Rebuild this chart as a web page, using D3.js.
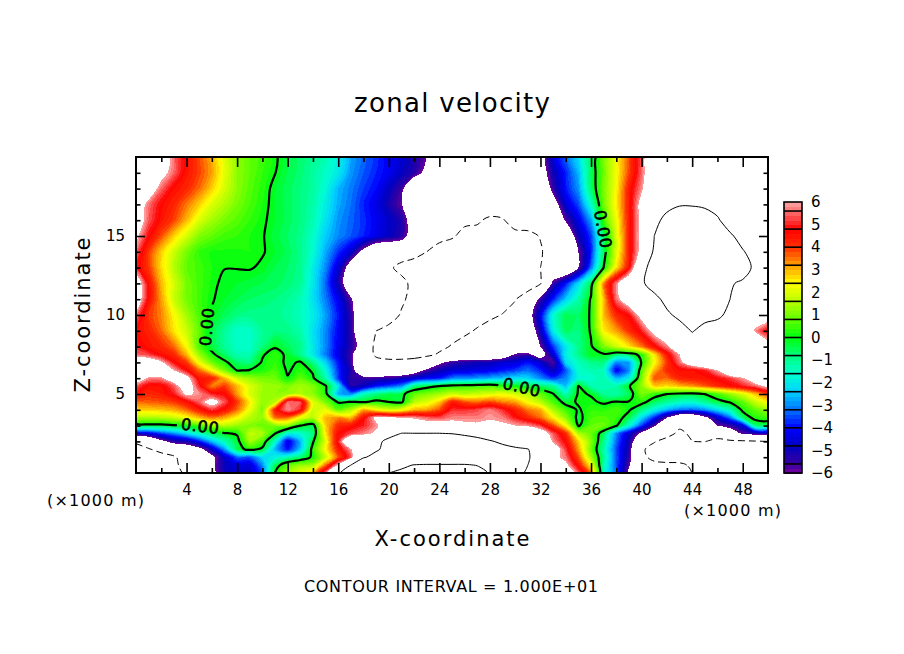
<!DOCTYPE html>
<html>
<head>
<meta charset="utf-8">
<script src="https://cdn.jsdelivr.net/npm/d3@7"></script>
<style>
  html, body { margin: 0; background: #fff; }
  text { font-family: "DejaVu Sans", sans-serif; fill: #000; }
</style>
</head>
<body>
<svg id="chart" width="904" height="654"></svg>
<script>
// heights of the rows below (x1000 m)
const zLevels = [20,19,18,17,16,15,14,13,12,11,10,9,8,7.5,7,6.5,6,5.5,5,4.5,4,3.5,3,2.5,2,1.5,1,.5,0];
// one column per 1000 m, x = 0..50
const xLevels = d3.range(0, 51);

// zonal velocity, one row per zLevels entry
const zonalVelocity = [
  [8,8,7,5.5,4.5,3.8,3,2,1.2,.8, .5,.1,-.4,-.7,-1,-1.3,-1.9,-2.8,-3.3,-3.7, -4.2,-4.6,-5.2,-6,-8,-8,-8,-8,-8,-8, -8,-8,-7,-4.4,-3.3,-2.2,-.6,1,2.2,3.8, 5.4,7.5,8,8,8,8,8,8,8,8,8],
  [8,8,6.5,5.5,4.5,3.9,3.2,2.1,1.2,.8, .4,.02,-.4,-.7,-1.1,-1.5,-2,-2.9,-3.4,-3.8, -4.2,-4.8,-5.3,-6.5,-8,-8,-8,-8,-8,-8, -8,-8,-7,-5,-3.8,-2.6,-.5,.9,2.3,3.9, 5.5,7.5,8,8,8,8,8,8,8,8,8],
  [8,7,5.5,4.6,4.2,3.6,2.8,1.9,1.2,.7, .3,-.2,-.5,-.8,-1.1,-1.7,-2.6,-3.1,-3.6,-4, -4.8,-5.6,-8,-8,-8,-8,-8,-8,-8,-8, -8,-8,-8,-5.5,-3.9,-2.9,-.6,1,2.4,4.4, 5.8,8,8,8,8,8,8,8,8,8,8],
  [7,5.6,4.7,4.2,3.5,2.8,2,1.5,1,.6, .2,-.2,-.5,-.8,-1.2,-1.9,-2.7,-3.2,-3.8,-4.3, -5.1,-5.9,-8,-8,-8,-8,-8,-8,-8,-8, -8,-8,-8,-7,-4.5,-3.5,-1.5,.9,2.5,4.4, 6.5,8,8.5,9.5,9.5,9,8.5,8,8,8,8],
  [7,5.4,4.5,3.9,3,2,1.4,1,.7,.4, .1,-.2,-.5,-.8,-1.3,-2.1,-2.9,-3.3,-3.7,-4.2, -4.7,-5.2,-7,-8,-8,-8.6,-9.3,-9.6,-10.6,-10.3, -8.5,-8,-8,-8,-5.8,-4.3,-2.8,.5,2.2,4.4, 6.4,8.5,11.5,14,14,13,10.5,8,8,8,8],
  [6.3,4.8,3.8,2.8,1.9,1.1,.8,.5,.4,.2, .05,-.3,-.6,-.9,-1.5,-2.4,-3,-3.4,-3.8,-4.3, -4.8,-5.3,-7,-8,-8.5,-9.6,-11,-11,-11,-10.8, -11,-11,-9.8,-8,-8,-5,-3.6,-.6,2,4.4, 6.5,10,12,14,14,14,13,10.6,8.5,8,8],
  [5.5,4,2.8,1.8,1,.4,.15,.15,.15,.2, .05,-.2,-.5,-.9,-1.6,-2.7,-3.7,-4.6,-6.5,-8, -8,-8,-8.5,-10,-12,-12,-12,-12,-12,-12, -12,-12,-10.4,-8,-8,-6,-3.8,-.4,2,4.4, 6.5,10.5,13,15,15,15,15,15,10.3,8.5,8],
  [5,4,2.7,1.6,.8,.5,.2,.02,.02,.05, -.1,-.4,-.6,-.9,-1.9,-3,-4.5,-7,-8,-8, -9.4,-11,-12,-12,-12,-12,-12,-12,-12,-12, -12,-12,-10,-8,-8,-6,-3.2,.02,2.6,4.6, 8.5,12,14,15,15,15,15,14,13,8.5,8],
  [7,4.6,3,1.9,1,.5,.15,-.15,-.2,-.3, -.4,-.5,-.7,-1,-2,-3.3,-5,-7.5,-8,-8, -8.5,-9,-11,-12,-12,-12,-12,-12,-12,-12, -12,-12,-10.2,-5.5,-3.9,-2.2,-.4,3.4,5.7,7.5, 9.5,11.5,14,15,15,15,14,10.6,9,8,8],
  [7,4.6,3.2,1.8,1,.5,.05,-.2,-.4,-.6, -.7,-.8,-1,-1.3,-2.1,-3.1,-4.2,-5.8,-8,-8, -8.5,-9.5,-11,-12,-12,-12,-12,-12,-12,-12, -10.2,-8,-5.5,-3.8,-2.4,-1.2,.1,3,5.6,7, 7.5,9,11,13,13,12,11,10,8,8,8],
  [5.5,4,3.4,2.4,1.4,.6,-.05,-.5,-.8,-.9, -.9,-.9,-1.1,-1.4,-1.9,-2.8,-3.9,-5.4,-8,-8, -8.5,-10.3,-12,-12,-12,-12,-12,-12,-11,-9.8, -8.5,-7,-4.2,-1.6,-.4,-.6,.1,3,4.2,4.8, 6.5,7.5,9.4,10.8,11,11,10.8,9,8,7,7],
  [4.6,4.3,3.6,2.6,1.8,.8,-.4,-1,-1.6,-1.5, -1,-.8,-.9,-1.2,-2.1,-3,-4.1,-5.3,-8,-10, -11,-11,-11,-11,-11,-11,-11,-9.5,-8,-8, -8,-8,-4.8,-1.9,-.5,-.8,.1,2.5,3.2,4.1, 5,6.5,7.5,8.5,10.2,9,8,8,8,5.8,4.6],
  [5,4.5,4.2,3.6,2.4,.6,-.3,-1,-1.5,-1.5, -.8,-.1,-.5,-.9,-2,-3,-4.2,-5.3,-6.8,-11, -11,-11,-11,-11,-10.6,-9.8,-8,-8,-8,-8, -8,-8,-6,-3.6,-2,-.9,-.1,1,1.8,2.6, 3.5,4.6,5.7,7.5,8,8,8,8,8,8,6.8],
  [5.5,5.2,4.6,4.2,3,1.3,.2,-.6,-1.3,-1.3, -.1,.4,-.2,-.9,-2,-3.1,-4.3,-5.6,-8,-10.5, -11.5,-11.5,-11,-10.6,-9.7,-8.5,-8,-8,-8,-7.5, -5.8,-5.6,-7,-4.4,-1.9,-.9,-.05,-.1,-.6,-.5, .3,2.6,4.5,6,8,8,8,8,8,8,8],
  [7,7,6.2,4.8,4,2.2,.9,.2,-.6,-.8, .1,.4,-.2,.1,-.9,-2.3,-3.9,-5.5,-8,-9, -9,-9,-9,-8,-6.3,-5.5,-5.2,-5,-4.9,-4.5, -4.5,-3.9,-4.6,-5.8,-2.2,-1.4,-.9,-.8,-3,-2.8, .1,2.3,4,5.6,7,8,8,8,8,8,8],
  [8,7.5,7,6,4.8,3.6,2.4,1,-.05,.05, .2,.6,-.1,.3,-.1,-1.7,-3.7,-5.2,-8,-8, -8,-8,-7,-5.7,-5,-4.6,-4.5,-4.3,-4.2,-3.9, -3.6,-3.2,-3.8,-4.9,-3.4,-1.5,-1.3,-1.4,-4.2,-3, .7,3,4.2,4.6,4.6,5,6,8,8,8,8],
  [6.8,5.8,5.8,7,6.5,4.5,4.3,3,1.8,1.3, 1,.9,.05,.8,.1,-1.2,-3.6,-5.4,-5.5,-5.5, -5.4,-5,-4.6,-4.1,-3.9,-3.1,-3,-2.9,-2.7,-2.5, -2.2,-2.3,-3,-3.7,-3,-1.7,-1.6,-1.2,-2.6,-2, 1,3.8,3.6,4.3,4.4,4.5,4.8,5.2,5.9,7,8],
  [5.4,4.6,4.6,5.4,7,5,3.4,4,3,2, 1.4,1.3,1.1,1.4,1.1,.1,-2,-5.2,-4.8,-3.9, -3.5,-3,-.8,-.3,.02,.3,.4,.5,.6,.3, .05,-.3,-.6,-1,-2.5,.05,-1.2,-1.4,-1.2,-.1, 1.2,2.8,2.7,3,3.3,3.7,4.2,4.6,5,5.5,6.3],
  [4.6,4.2,4.4,5,6.2,5.8,5,4.8,3.2,2, 1.3,1.2,1.3,1.5,1.2,.3,-2.7,-3,-1.4,-.8, -.4,-.3,.8,1.1,1.4,1.8,1.6,1.8,2,2.2, 1.9,1.6,.8,.05,-1.3,.1,-.05,-1,-1.2,-.5, 1,.4,.02,-.2,-.3,.02,.6,1.3,2,2.9,3.8],
  [3.6,3.7,3.8,4,4.6,5.5,6.6,5.4,4,2.5, 1.2,1.6,5.6,5.4,2,1,-.1,.02,-.1,.2, -.02,-.2,1.6,2,2.8,4.4,3.8,3.6,3.9,3.4, 3.2,2.3,1.6,.6,-.3,.1,.1,-.1,.05,.05, .3,-.5,-1,-1.4,-1.5,-1,-.3,.1,.8,1.8,2.4],
  [2.7,2.8,2.9,3.1,3.6,4.4,5.2,4.6,3.6,2.2, 1,4.4,5.8,5,1.8,2.2,.8,1.5,3.2,2.4, 1.9,2.2,3,3.2,3.8,5.1,5.1,5.3,5.7,5.1, 4.3,3.5,3.1,1.5,.5,-.1,.4,.3,.6,.1, -.8,-1.8,-2.6,-3.1,-3.3,-2.9,-2.2,-1.3,.2,.8,1.3],
  [1.4,1.5,1.6,1.8,2.3,3,3.5,3.1,2.4,1.6, 1.2,3.6,3.6,2.2,1.6,3,3.4,3,4.6,6.3, 6.2,6,5.9,5.5,5.3,5.7,5.7,5.7,5.9,5.7, 4.9,4.2,3.6,2.5,1.2,-.3,.6,.7,.4,-.4, -2.2,-3.8,-6,-8,-8,-6.5,-4.6,-3.2,-.6,.3,.5],
  [-.4,-.3,-.3,-.1,.1,.6,1.4,1.6,1.3,1.1, .9,1.1,1.2,.02,-.4,2.8,4.2,4.5,5,5.8, 7,7,6.8,6.8,6.8,6.6,6.3,6.2,6.3,6.2, 6,5.8,5.2,3.9,2.4,-.1,.8,.9,.1,-1.6, -3.6,-5.8,-8,-9.5,-8,-8,-6,-5.5,-4.5,-.7,-.7],
  [-4.9,-4.3,-3.6,-3,-2.2,-1.4,-.6,-.1,.1,1.7, 1.5,.02,-1.7,-1.6,-.8,2.6,4.7,5.3,5.7,6.2, 8.6,10.1,10.1,10.1,10.1,9.9,9.2,8.5,8,8, 8,8,7,5.4,4.2,1.6,.9,-.5,-3,-4.6, -6.4,-8,-9,-10.6,-9.5,-8.5,-8.5,-7,-5.8,-5.3,-5.4],
  [-9.6,-8.5,-6.5,-5.3,-5,-3.9,-2.5,-1.3,-.3,1.4, .6,-1.5,-4.4,-2.6,-.1,2.1,5,8,8,9, 11,13,13,13,13,13,12.5,11.5,10.3,9.4, 8.6,8,8,5.8,4.7,2.8,1.1,-.9,-3.2,-5, -8,-9.8,-11,-12,-10,-9.9,-10.8,-10.5,-10.4,-10.2,-10],
  [-11,-10.2,-9.2,-8,-7.5,-6.6,-4.8,-2.9,-.4,.3, -.2,-2.6,-4,-2.4,.4,2.4,4.4,5.9,8,9.6, 11,14,14,14,14,14,14,14,14,11, 10.5,10.1,8.5,7,5.2,3.2,.9,-1.2,-3.5,-5.2, -9.6,-11,-12,-12,-12,-12,-12,-12,-12,-12,-12],
  [-12,-12,-11,-10.4,-8.5,-8,-6.5,-4.6,-3.3,-3.4, -2.2,-1.8,-1.3,-.7,.2,1.8,3.8,5.4,9.7,11, 14,15,15,15,15,15,15,15,14,13, 12,10.4,8,6.5,5.6,3.8,1.4,-1,-3.4,-5.4, -9.3,-10.8,-12,-12,-12,-12,-12,-12,-12,-12,-12],
  [-12,-12,-11.5,-10.8,-8.6,-8,-6.3,-4.9,-4.4,-4.5, -3,-.5,.8,1.3,1.4,3.6,6.2,10,13,16, 18,19,20.2,20.5,20.5,20.5,20.5,19.8,17,15, 11.5,10,8,7,6.3,4.5,2.4,-1.3,-3.4,-5.8, -8,-9.2,-9,-9.2,-10.6,-12,-12,-12,-12,-12,-12],
  [-12,-12,-12,-11,-9.5,-8,-6.5,-5,-4.6,-4.8, -3.6,.05,1.4,2.2,3,5.7,9.5,12,15,18, 20,21,24,24,24,24,24,22,19.5,17, 11,9.5,8,7.8,7,5.5,3.5,-1.5,-3.3,-6.5, -8,-8.5,-8.5,-8.5,-10.1,-12,-12,-12,-12,-12,-12]
];

// colour table: value -> colour, beyond +-6 stays white
const paletteValues = [-6,-5.6,-4.8,-4,-3.2,-2.4,-1.6,-.8,0,.8,1.6,2.4,3.2,4,4.8,5.6,6];
const paletteColors = ['#7800a0','#3800a0','#0000c0','#0000ff','#0070ff','#00d0ff','#00ffd0','#00ff80','#00ff10','#60ff00','#b8ff00','#ffff00','#ffa000','#ff3000','#ff0000','#ff7070','#ffa8a8'];

const fillStep = 0.2;
const boxEdges = d3.range(-5.6, 5.7, 0.8);
const barTicks = d3.range(-6, 7);
const xMajor = d3.range(4, 49, 4);
const xMinor = d3.range(2, 50, 4);
const zMajor = [5, 10, 15];
const zMinor = d3.range(1, 20).filter(d => d % 5 !== 0);
const contourLevels = [-10, 0, 10, 20];
const contourLabels = [
  { x: 5.6,  z: 9.24,  angle: -85 },
  { x: 5.06, z: 2.97,  angle: 7 },
  { x: 30.5, z: 5.44,  angle: 13 },
  { x: 36.95, z: 15.44, angle: 80 }
];

const plot = { left: 136, right: 768, top: 157, bottom: 473 };
const svg = d3.select('#chart');

const x = d3.scaleLinear().domain([0, 50]).range([plot.left, plot.right]);
const z = d3.scaleLinear().domain([0, 20]).range([plot.bottom, plot.top]);
const rowToZ = d3.scaleLinear().domain(zLevels.map((d, i) => i)).range(zLevels);
const color = d3.scaleLinear().domain(paletteValues).range(paletteColors).clamp(true);

// contours come back in grid units with nodes at cell centres; round the rings off
const ringLine = d3.line()
  .x(d => x(d[0] - 0.5))
  .y(d => z(rowToZ(d[1] - 0.5)))
  .curve(d3.curveCatmullRomClosed.alpha(0.5));
const path = c => c.coordinates.map(poly => poly.map(ring => ringLine(ring.slice(0, -1))).join('')).join('');

const grid = zonalVelocity.flat();
const contourGen = d3.contours().size([xLevels.length, zLevels.length]);

svg.append('clipPath').attr('id', 'plot-clip')
  .append('rect')
  .attr('x', plot.left).attr('y', plot.top)
  .attr('width', plot.right - plot.left).attr('height', plot.bottom - plot.top);

// Filled bands, painted from low to high; above +6 goes back to white
const fillLevels = d3.range(-30, 31).map(d => d * fillStep);
const bands = svg.append('g').attr('clip-path', 'url(#plot-clip)').attr('shape-rendering', 'crispEdges');
bands.selectAll('path')
  .data(contourGen.thresholds(fillLevels)(grid))
  .join('path')
  .attr('d', path)
  .attr('fill', d => d.value >= 5.99 ? '#fff' : color(d.value + fillStep / 2));

// Gaps in the zero line for its labels
const mask = svg.append('mask').attr('id', 'label-gaps').attr('maskUnits', 'userSpaceOnUse')
  .attr('x', 0).attr('y', 0).attr('width', 904).attr('height', 654);
mask.append('rect').attr('width', 904).attr('height', 654).attr('fill', '#fff');
mask.selectAll('rect.gap')
  .data(contourLabels)
  .join('rect')
  .attr('class', 'gap')
  .attr('x', -23).attr('y', -9).attr('width', 46).attr('height', 18)
  .attr('fill', '#000')
  .attr('transform', d => `translate(${x(d.x)},${z(d.z)}) rotate(${d.angle})`);

// Contour lines: heavy at zero, thin otherwise, dashed when negative
const lines = svg.append('g').attr('clip-path', 'url(#plot-clip)').append('g').attr('mask', 'url(#label-gaps)');
lines.selectAll('path')
  .data(contourGen.thresholds(contourLevels)(grid))
  .join('path')
  .attr('d', path)
  .attr('fill', 'none')
  .attr('stroke', '#000')
  .attr('stroke-width', d => d.value === 0 ? 2.2 : 1)
  .attr('stroke-dasharray', d => d.value < 0 ? '7,4' : null);

svg.selectAll('text.clabel')
  .data(contourLabels)
  .join('text')
  .attr('class', 'clabel')
  .attr('text-anchor', 'middle')
  .attr('dy', '0.36em')
  .attr('font-size', 16)
  .attr('textLength', 38)
  .attr('stroke', '#000')
  .attr('stroke-width', 0.6)
  .attr('transform', d => `translate(${x(d.x)},${z(d.z)}) rotate(${d.angle})`)
  .text('0.00');

// Axes on all four sides, ticks pointing in
function addAxis(axis, tx, ty, values, size, labelled) {
  const g = svg.append('g').attr('transform', `translate(${tx},${ty})`)
    .call(axis.tickValues(values).tickSize(size).tickPadding(labelled ? 11 : 0)
      .tickFormat(labelled ? d3.format('d') : ''));
  g.select('.domain').remove();
  g.selectAll('line').attr('stroke', '#000').attr('stroke-width', 1.6);
  g.selectAll('text').attr('font-size', 15).attr('font-family', '"DejaVu Sans", sans-serif');
  return g;
}
addAxis(d3.axisBottom(x), 0, plot.bottom, xMajor, -10, true);
addAxis(d3.axisBottom(x), 0, plot.bottom, xMinor, -5, false);
addAxis(d3.axisTop(x), 0, plot.top, xMajor, -10, false);
addAxis(d3.axisTop(x), 0, plot.top, xMinor, -5, false);
addAxis(d3.axisLeft(z), plot.left, 0, zMajor, -9, true);
addAxis(d3.axisLeft(z), plot.left, 0, zMinor, -4.5, false);
addAxis(d3.axisRight(z), plot.right, 0, zMajor, -9, false);
addAxis(d3.axisRight(z), plot.right, 0, zMinor, -4.5, false);

svg.append('rect')
  .attr('x', plot.left).attr('y', plot.top)
  .attr('width', plot.right - plot.left).attr('height', plot.bottom - plot.top)
  .attr('fill', 'none').attr('stroke', '#000').attr('stroke-width', 2);

// Colour bar
const bar = { left: 784, right: 802, top: 202, bottom: 473 };
const barY = d3.scaleLinear().domain([-6, 6]).range([bar.bottom, bar.top]);
const barG = svg.append('g');
barG.append('g').attr('shape-rendering', 'crispEdges')
  .selectAll('rect')
  .data(fillLevels.slice(0, -1))
  .join('rect')
  .attr('x', bar.left)
  .attr('width', bar.right - bar.left)
  .attr('y', d => barY(d + fillStep))
  .attr('height', d => barY(d) - barY(d + fillStep) + 0.5)
  .attr('fill', d => color(d + fillStep / 2));
barG.selectAll('line')
  .data(boxEdges)
  .join('line')
  .attr('x1', bar.left).attr('x2', bar.right)
  .attr('y1', d => barY(d)).attr('y2', d => barY(d))
  .attr('stroke', '#000').attr('stroke-width', 1.6);
barG.append('rect')
  .attr('x', bar.left).attr('y', bar.top)
  .attr('width', bar.right - bar.left).attr('height', bar.bottom - bar.top)
  .attr('fill', 'none').attr('stroke', '#000').attr('stroke-width', 1.6);
const barAxis = svg.append('g').attr('transform', `translate(${bar.right},0)`)
  .call(d3.axisRight(barY).tickValues(barTicks).tickSize(0).tickPadding(9).tickFormat(d3.format('d')));
barAxis.select('.domain').remove();
barAxis.selectAll('text').attr('font-size', 15).attr('font-family', '"DejaVu Sans", sans-serif');

// Titles and notes
function addText(str, px, py, size, width, rotate) {
  const t = svg.append('text')
    .attr('text-anchor', 'middle')
    .attr('font-size', size)
    .attr('textLength', width)
    .attr('lengthAdjust', 'spacing')
    .text(str);
  t.attr('transform', `translate(${px},${py})` + (rotate ? ` rotate(${rotate})` : ''));
}
addText('zonal velocity', 452, 112, 26, 196);
addText('X-coordinate', 452, 546, 21, 155);
addText('Z-coordinate', 90, 315, 21, 155, -90);
addText('CONTOUR INTERVAL = 1.000E+01', 451, 592, 16, 294);
addText('(×1000 m)', 95.5, 506, 16, 97);
addText('(×1000 m)', 732.5, 516, 16, 97);
</script>
</body>
</html>
